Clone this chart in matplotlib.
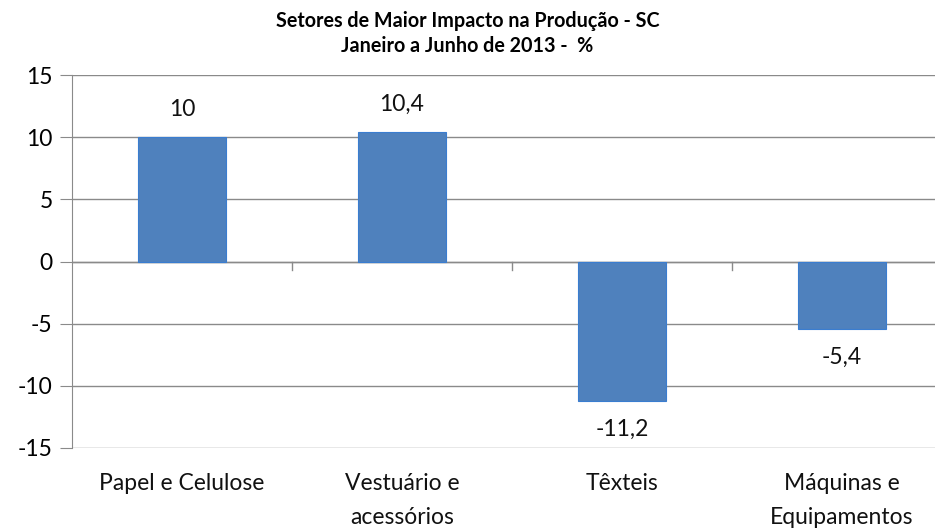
import matplotlib.pyplot as plt

plt.rcParams['font.family'] = ['Lato', 'DejaVu Sans']

setores = ["Papel e Celulose", "Vestuário e\nacessórios", "Têxteis", "Máquinas e\nEquipamentos"]
valores = [10, 10.4, -11.2, -5.4]
rotulos = ["10", "10,4", "-11,2", "-5,4"]
yticks = [-15, -10, -5, 0, 5, 10, 15]

fig = plt.figure(figsize=(9.35, 5.31), dpi=100)
# eixo passa um pouco da borda direita, como no original recortado
ax = fig.add_axes([72 / 935, 1 - 448 / 531, 880 / 935, 373 / 531])

x = range(len(setores))
ax.bar(x, valores, width=0.4, color="#4F81BD", edgecolor="#3A7DD0", linewidth=0.8, zorder=3)

for xi, v, t in zip(x, valores, rotulos):
    off = 28 if v > 0 else -29
    ax.annotate(t, (xi, v), xytext=(0, off), textcoords="offset pixels",
                ha="center", va="center", fontsize=16.5, color="#111111")

ax.set_xlim(-0.5, 3.5)
ax.set_ylim(-15, 15)
ax.set_yticks(yticks)
ax.set_yticklabels([str(t) for t in yticks], fontsize=16.5)
ax.yaxis.grid(True, color="#8a8a8a", linewidth=1, zorder=0)
ax.tick_params(axis="y", length=9, color="#8a8a8a", pad=5)

# eixo das categorias na linha do zero
ax.set_xticks([])
ax.axhline(0, color="#8a8a8a", linewidth=1, zorder=2)
for b in [0.5, 1.5, 2.5]:
    ax.plot([b, b], [0, -0.65], color="#8a8a8a", linewidth=1, zorder=2, clip_on=False)
for xi, s in zip(x, setores):
    ax.annotate(s, (xi, -15), xytext=(0, -25), textcoords="offset pixels",
                ha="center", va="top", fontsize=16.5, linespacing=1.78,
                color="#111111", annotation_clip=False)

for sp in ["top", "right", "bottom"]:
    ax.spines[sp].set_visible(False)
ax.spines["left"].set_color("#8a8a8a")

fig.suptitle("Setores de Maior Impacto na Produção - SC\nJaneiro a Junho de 2013 -  %",
             y=0.98, fontsize=14.2, fontweight="bold", linespacing=1.35)

fig.savefig("out.png", dpi=100)
